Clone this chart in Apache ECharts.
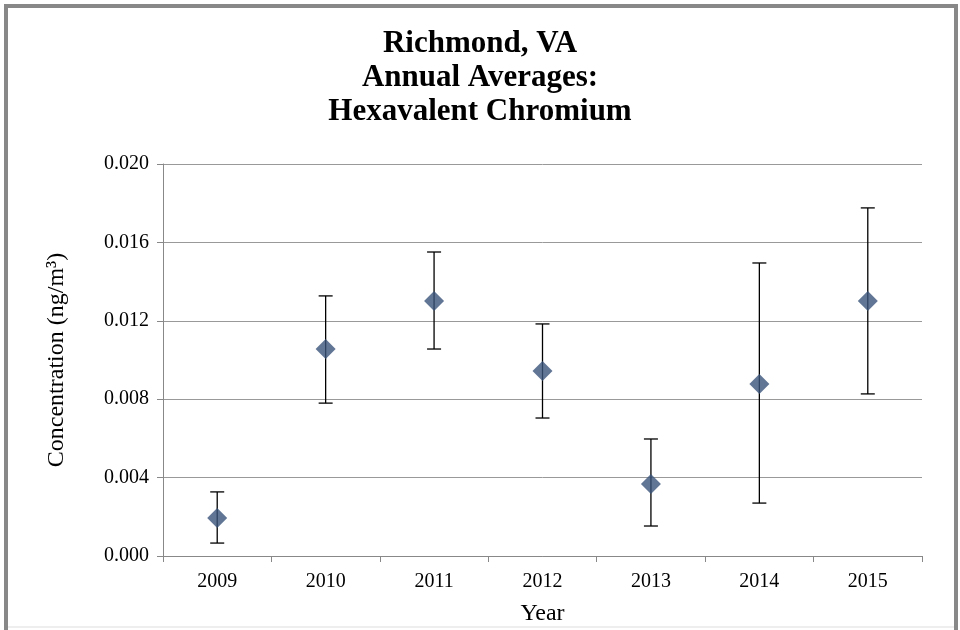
<!DOCTYPE html>
<html><head><meta charset="utf-8">
<script src="https://cdn.jsdelivr.net/npm/echarts@6/dist/echarts.min.js"></script>
<style>html,body{margin:0;padding:0;background:#fff;}#c{width:960px;height:630px;}</style>
</head><body><div id="c"></div>
<script>
var years = ['2009','2010','2011','2012','2013','2014','2015'];
var means = [0.00194, 0.01056, 0.01301, 0.00944, 0.00367, 0.00878, 0.01301];
var upper = [0.00327, 0.01327, 0.01551, 0.01184, 0.00597, 0.01495, 0.01776];
var lower = [0.00066, 0.00780, 0.01056, 0.00704, 0.00153, 0.00270, 0.00827];
var yTicks = [0, 0.004, 0.008, 0.012, 0.016, 0.020];

var errData = years.map(function(y, i){ return [i, lower[i], upper[i]]; });
var chart = echarts.init(document.getElementById('c'));
chart.setOption({
  backgroundColor: '#fff',
  animation: false,
  graphic: [
    {type:'rect', shape:{x:6, y:6, width:950, height:640}, style:{fill:'none', stroke:'#888', lineWidth:4}, z:-1},
    {type:'line', shape:{x1:8, y1:627, x2:954, y2:627}, style:{stroke:'#ddd', lineWidth:1}, z:-1}
  ],
  title: {
    text: 'Richmond, VA\nAnnual Averages:\nHexavalent Chromium',
    left: 'center', top: 22,
    textStyle: {fontFamily:'Liberation Serif', fontWeight:'bold', fontSize:31, lineHeight:34, color:'#000'}
  },
  grid: {left:163, right:38, top:164, bottom:74, outerBoundsMode:'none', containLabel:false},
  xAxis: {
    type:'category', data: years, boundaryGap: true,
    name:'Year', nameLocation:'middle', nameGap:46,
    nameTextStyle:{fontFamily:'Liberation Serif', fontSize:24, color:'#000'},
    axisLine:{lineStyle:{color:'#888'}},
    axisTick:{show:true, length:6, lineStyle:{color:'#888'}},
    axisLabel:{fontFamily:'Liberation Serif', fontSize:20, color:'#000', margin:16}
  },
  yAxis: {
    type:'value', min:0, max:0.02, interval:0.004,
    name:'Concentration (ng/m³)', nameLocation:'middle', nameGap:94, nameRotate:90,
    nameTextStyle:{fontFamily:'Liberation Serif', fontSize:24, color:'#000'},
    axisLine:{show:true, lineStyle:{color:'#888'}},
    axisTick:{show:true, length:6, lineStyle:{color:'#888'}},
    splitLine:{lineStyle:{color:'#999', width:1}},
    axisLabel:{fontFamily:'Liberation Serif', fontSize:20, color:'#000', margin:14,
      formatter:function(v){ return v.toFixed(3); }}
  },
  series: [
    {
      type:'custom', data: errData, z:2,
      renderItem: function(params, api){
        var x = api.value(0);
        var lo = api.coord([x, api.value(1)]);
        var hi = api.coord([x, api.value(2)]);
        var hw = 7;
        var st = {stroke:'#000', lineWidth:1.3};
        return {type:'group', children:[
          {type:'line', shape:{x1:lo[0], y1:lo[1], x2:hi[0], y2:hi[1]}, style:st},
          {type:'line', shape:{x1:lo[0]-hw, y1:lo[1], x2:lo[0]+hw, y2:lo[1]}, style:st},
          {type:'line', shape:{x1:hi[0]-hw, y1:hi[1], x2:hi[0]+hw, y2:hi[1]}, style:st}
        ]};
      }
    },
    {
      type:'scatter', data: means, symbol:'diamond', symbolSize:[20,20], z:3,
      itemStyle:{color:'#3A5379'}
    }
  ]
});
</script></body></html>
